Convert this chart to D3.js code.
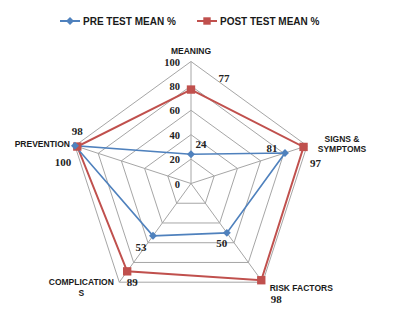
<!DOCTYPE html>
<html>
<head>
<meta charset="utf-8">
<script src="https://cdn.jsdelivr.net/npm/d3@7"></script>
<style>
  body { margin: 0; background: #fff; }
  svg { display: block; }
</style>
</head>
<body>
<div id="chart"></div>
<script>
// Radar chart: pre vs post test mean %
const axes = ['MEANING', 'SIGNS & SYMPTOMS', 'RISK FACTORS', 'COMPLICATIONS', 'PREVENTION'];
const preValues = [24, 81, 50, 53, 100];
const postValues = [77, 97, 98, 89, 98];
const ticks = [0, 20, 40, 60, 80, 100];
const seriesNames = ['PRE TEST MEAN %', 'POST TEST MEAN %'];

const width = 404, height = 319;
const cx = 191, cy = 183.5, R = 122;
const blue = '#4F81BD', red = '#C0504D';

const svg = d3.select('#chart').append('svg')
    .attr('width', width)
    .attr('height', height);

const r = d3.scaleLinear().domain([0, 100]).range([0, R]);
const angle = d3.scalePoint().domain(axes).range([0, 2 * Math.PI * 4 / 5]);

const pt = (axis, v) => {
    const a = angle(axis);
    return [cx + r(v) * Math.sin(a), cy - r(v) * Math.cos(a)];
};

// Grid rings
ticks.filter(t => t > 0).forEach(t => {
    svg.append('polygon')
        .attr('points', axes.map(a => pt(a, t).join(',')).join(' '))
        .attr('fill', 'none')
        .attr('stroke', '#a6a6a6')
        .attr('stroke-width', 1);
});
// Spokes
axes.forEach(a => {
    const p = pt(a, 100);
    svg.append('line')
        .attr('x1', cx).attr('y1', cy)
        .attr('x2', p[0]).attr('y2', p[1])
        .attr('stroke', '#a6a6a6')
        .attr('stroke-width', 1);
});

// Tick labels
svg.selectAll('.tick-label')
    .data(ticks)
    .enter()
    .append('text')
    .attr('x', cx - 11)
    .attr('y', d => cy - r(d) + 4)
    .attr('text-anchor', 'end')
    .attr('font-family', 'Liberation Serif, Times New Roman, serif')
    .attr('font-size', 10.5)
    .attr('font-weight', 'bold')
    .attr('fill', '#222')
    .text(d => d);

// Axis labels
const axisLabelPos = {
    'MEANING': { dx: 0, dy: -11, anchor: 'middle', lines: ['MEANING'] },
    'SIGNS & SYMPTOMS': { dx: 35, dy: -7, anchor: 'middle', lines: ['SIGNS &', 'SYMPTOMS'] },
    'RISK FACTORS': { dx: 7, dy: 6, anchor: 'start', lines: ['RISK FACTORS'] },
    'COMPLICATIONS': { dx: -38, dy: 0, anchor: 'middle', lines: ['COMPLICATION', 'S'] },
    'PREVENTION': { dx: -5, dy: -2, anchor: 'end', lines: ['PREVENTION'] }
};
axes.forEach(a => {
    const p = pt(a, 100);
    const o = axisLabelPos[a];
    const t = svg.append('text')
        .attr('text-anchor', o.anchor)
        .attr('font-family', 'Liberation Sans, Arial, sans-serif')
        .attr('font-size', 8.5)
        .attr('font-weight', 'bold')
        .attr('fill', '#1a1a1a');
    o.lines.forEach((ln, i) => {
        t.append('tspan')
            .attr('x', p[0] + o.dx)
            .attr('y', p[1] + o.dy + 3 + i * 10.5)
            .text(ln);
    });
});

// Series lines
const line = d3.line().curve(d3.curveLinearClosed);
const drawSeries = (values, color, sw) => {
    svg.append('path')
        .attr('d', line(axes.map((a, i) => pt(a, values[i]))))
        .attr('fill', 'none')
        .attr('stroke', color)
        .attr('stroke-width', sw);
};
drawSeries(postValues, red, 2);
drawSeries(preValues, blue, 1.6);

// Markers
const diamond = d3.symbol().type(d3.symbolDiamond2).size(40);
const square = d3.symbol().type(d3.symbolSquare).size(70);
axes.forEach((a, i) => {
    const p = pt(a, postValues[i]);
    svg.append('path')
        .attr('d', square())
        .attr('transform', `translate(${p[0]},${p[1]})`)
        .attr('fill', red);
});
axes.forEach((a, i) => {
    const p = pt(a, preValues[i]);
    svg.append('path')
        .attr('d', diamond())
        .attr('transform', `translate(${p[0]},${p[1]})`)
        .attr('fill', blue);
});

// Data labels (offsets from each point)
const preOffsets = [[10, -10], [-13, -5], [-5, 10], [-12, 11], [-12, 16]];
const postOffsets = [[33, -12], [12, 16], [15, 19], [5, 11], [0, -16]];
const drawLabels = (values, offsets) => {
    axes.forEach((a, i) => {
        const p = pt(a, values[i]);
        svg.append('text')
            .attr('x', p[0] + offsets[i][0])
            .attr('y', p[1] + offsets[i][1] + 4)
            .attr('text-anchor', 'middle')
            .attr('font-family', 'Liberation Serif, Times New Roman, serif')
            .attr('font-size', 11)
            .attr('font-weight', 'bold')
            .attr('fill', '#222')
            .text(values[i]);
    });
};
drawLabels(preValues, preOffsets);
drawLabels(postValues, postOffsets);

// Legend
const legend = [
    { name: seriesNames[0], color: blue, x: 60, sym: diamond },
    { name: seriesNames[1], color: red, x: 197, sym: d3.symbol().type(d3.symbolSquare).size(55) }
];
legend.forEach(l => {
    svg.append('line')
        .attr('x1', l.x).attr('x2', l.x + 20)
        .attr('y1', 21).attr('y2', 21)
        .attr('stroke', l.color)
        .attr('stroke-width', 2);
    svg.append('path')
        .attr('d', l.sym())
        .attr('transform', `translate(${l.x + 10},21)`)
        .attr('fill', l.color);
    svg.append('text')
        .attr('x', l.x + 23)
        .attr('y', 24.5)
        .attr('font-family', 'Liberation Sans, Arial, sans-serif')
        .attr('font-size', 10)
        .attr('font-weight', 'bold')
        .attr('fill', '#1a1a1a')
        .text(l.name);
});
</script>
</body>
</html>
